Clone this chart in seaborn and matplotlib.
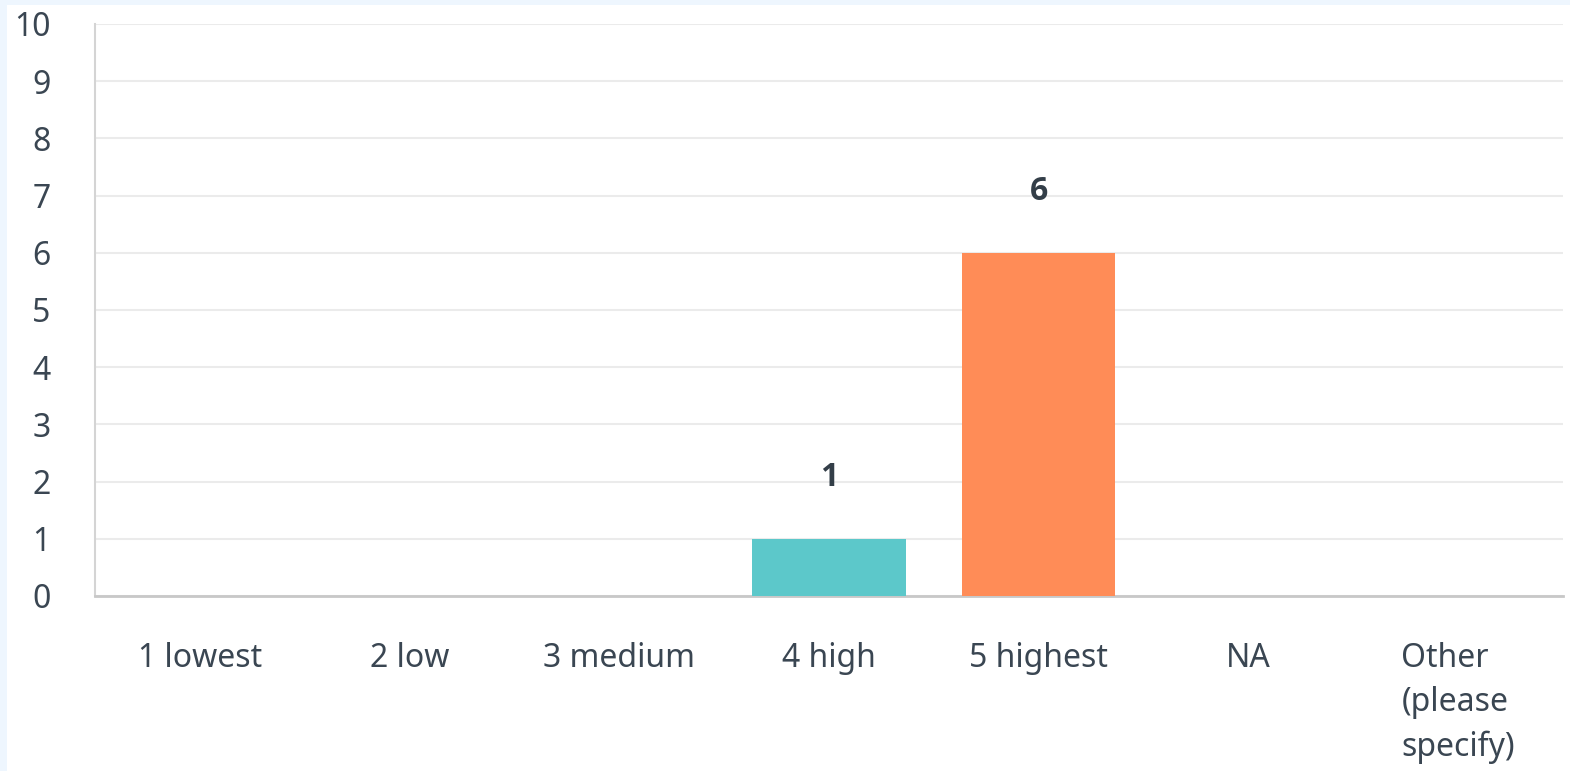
import numpy as np
import pandas as pd
import seaborn as sns
import matplotlib.pyplot as plt
from matplotlib.patches import Rectangle

#data
categories = ["1 lowest", "2 low", "3 medium", "4 high", "5 highest", "NA", "Other\n(please\nspecify)"]
counts = [0, 0, 0, 1, 6, 0, 0]
bar_colors = ["#5CC8CA", "#5CC8CA", "#5CC8CA", "#5CC8CA", "#FF8C57", "#5CC8CA", "#5CC8CA"]
y_ticks = list(range(0, 11))

sns.set_theme(style="white")
plt.rcParams['font.family'] = ['Noto Sans', 'DejaVu Sans']

text_col = "#3a4652"

fig = plt.figure(figsize=(15.7, 7.71), dpi=100)
fig.patch.set_facecolor("#EEF6FE")
#white panel, behind everything
fig.patches.append(Rectangle((7 / 1570, 0), 1, 1 - 5 / 771, transform=fig.transFigure,
                             facecolor="white", edgecolor="none", zorder=-10))

ax = fig.add_axes([95 / 1570, 1 - 596 / 771, (1563 - 95) / 1570, (596 - 24) / 771])
ax.set_facecolor("none")

df = pd.DataFrame({"category": categories, "count": counts})
sns.barplot(data=df, x="category", y="count", hue="category", palette=bar_colors,
            legend=False, width=0.73, linewidth=0, saturation=1, ax=ax, zorder=3)

#value labels
for i, v in enumerate(counts):
    if v > 0:
        ax.text(i, v + 1.07, str(v), ha="center", va="center", fontsize=23,
                fontweight="bold", family=["Open Sans", "DejaVu Sans"],
                color="#333e48", zorder=4)

ax.set_ylim(0, 10)
ax.set_yticks(y_ticks)
ax.set_xlim(-0.5, len(categories) - 0.5)
ax.yaxis.grid(True, color="#ebebeb", linewidth=1.5, zorder=0)
ax.set_axisbelow(True)

ax.set_xlabel("")
ax.set_ylabel("")
ax.tick_params(axis="y", length=0, pad=32, labelsize=23, labelcolor=text_col)
ax.tick_params(axis="x", length=0, pad=33, labelsize=23, labelcolor=text_col)
for lab in ax.get_xticklabels():
    lab.set_va("top")
    lab.set_multialignment("left")
    lab.set_linespacing(1.45)

for s in ["top", "right"]:
    ax.spines[s].set_visible(False)
ax.spines["left"].set_color("#d4d4d4")
ax.spines["left"].set_linewidth(1.5)
ax.spines["bottom"].set_color("#c8c8c8")
ax.spines["bottom"].set_linewidth(2)

fig.savefig("out.png", dpi=100, facecolor=fig.get_facecolor())
